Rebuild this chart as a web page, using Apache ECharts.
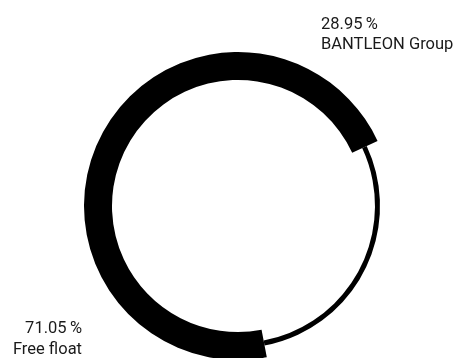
<!DOCTYPE html>
<html><head><meta charset="utf-8">
<script src="https://cdn.jsdelivr.net/npm/echarts@6/dist/echarts.min.js"></script>
<style>html,body{margin:0;padding:0;background:#fff}#c{width:453px;height:358px}</style>
</head><body><div id="c"></div>
<script>
const categories = ['BANTLEON Group', 'Free float'];
const shares = [28.95, 71.05];

const chart = echarts.init(document.getElementById('c'), null, {renderer: 'canvas'});
const fmt = p => p.value.toFixed(2) + '\u2009%\n' + p.name;
const labelPos = [
  {x: 321, y: 15, align: 'left'},
  {x: 82, y: 318, align: 'right'}
];
const labelLH = [20, 21];
chart.setOption({
  animation: false,
  series: [
    {
      type: 'pie', center: [238, 206], radius: [126, 154], startAngle: 25, clockwise: true,
      silent: true,
      data: categories.map((n, i) => ({name: n, value: shares[i],
        label: {lineHeight: labelLH[i]},
        itemStyle: {color: i === 1 ? '#000' : 'rgba(0,0,0,0)'}})),
      label: {show: true, formatter: fmt, color: '#1a1a1a', fontFamily: 'Roboto', fontSize: 16.5,
        overflow: 'none', width: 200, textAlign: 'inherit'},
      labelLine: {show: false},
      labelLayout: p => Object.assign({verticalAlign: 'top'}, labelPos[p.dataIndex])
    },
    {
      type: 'pie', center: [238, 206], radius: [137, 142], startAngle: 25, clockwise: true,
      silent: true,
      data: categories.map((n, i) => ({name: n, value: shares[i],
        itemStyle: {color: i === 0 ? '#000' : 'rgba(0,0,0,0)'}})),
      label: {show: false}, labelLine: {show: false}
    }
  ]
});
</script></body></html>
